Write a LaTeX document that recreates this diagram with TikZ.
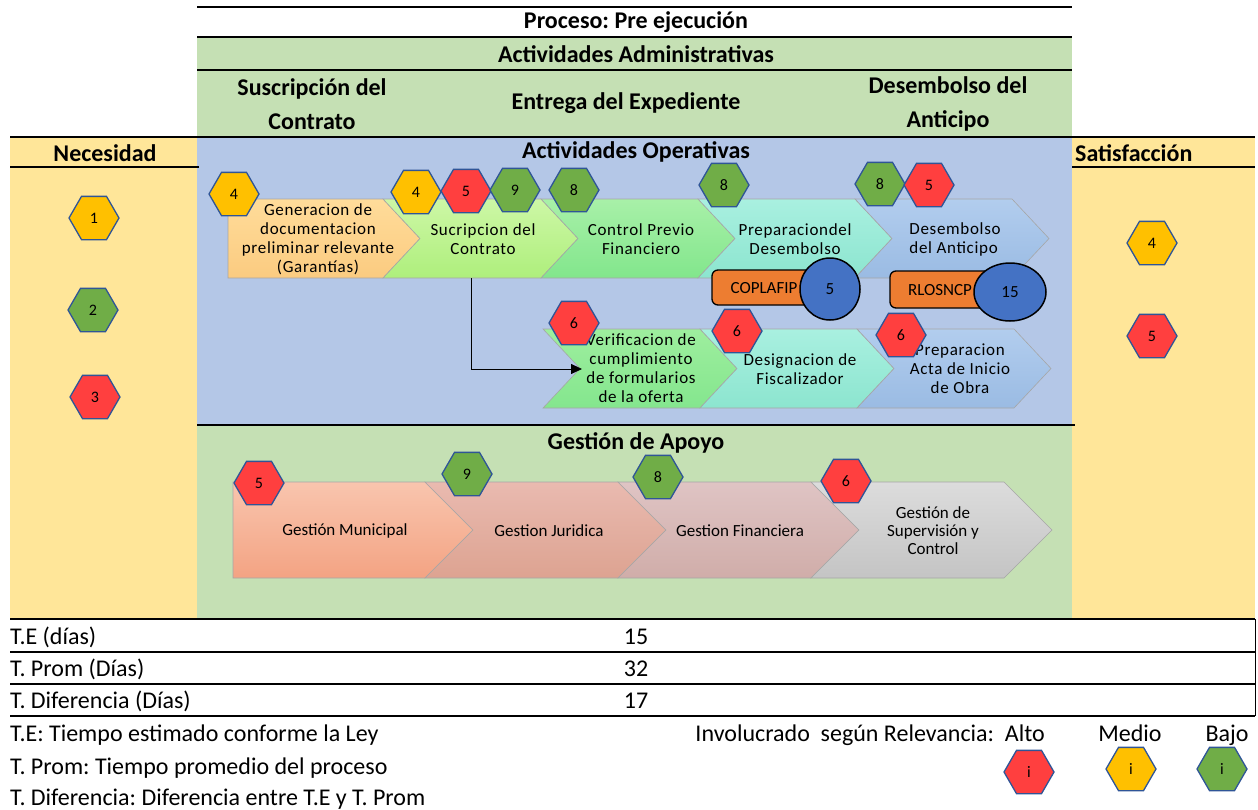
\documentclass[tikz,border=0pt]{standalone}
\usepackage{fontspec}
\setmainfont{Carlito}
\newfontfamily\stepfont[LetterSpace=4]{Carlito}
\usetikzlibrary{positioning,shapes.geometric,arrows.meta}
\frenchspacing

\definecolor{bgblue}{HTML}{B4C7E7}
\definecolor{bggreen}{HTML}{C5E0B4}
\definecolor{bgyellow}{HTML}{FFE699}
\definecolor{hexyellow}{HTML}{FFC000}
\definecolor{hexred}{HTML}{FF3F3F}
\definecolor{hexgreen}{HTML}{70AD47}
\definecolor{hexline}{HTML}{2F5597}
\definecolor{boxorange}{HTML}{ED7D31}
\definecolor{circblue}{HTML}{4472C4}

% notched chevron: x, y top, y bottom, flat width, point depth, style
\newcommand{\chevshape}[6]{%
  \draw[#6] (#1,#2) -- ++(#4,0) -- ({#1+#4+#5},{(#2+#3)/2}) -- ({#1+#4},#3)
    -- (#1,#3) -- ({#1+#5},{(#2+#3)/2}) -- cycle;}
% first step of a row (flat left side)
\newcommand{\plateshape}[6]{%
  \draw[#6] (#1,#2) -- ++(#4,0) -- ({#1+#4+#5},{(#2+#3)/2}) -- ({#1+#4},#3)
    -- (#1,#3) -- cycle;}

\tikzset{
  hexa/.style={regular polygon, regular polygon sides=6, minimum size=50pt,
    inner sep=0pt, draw=hexline, line width=1.3pt, font=\fontsize{16}{16}\selectfont},
  hexY/.style={hexa, fill=hexyellow},
  hexR/.style={hexa, fill=hexred},
  hexG/.style={hexa, fill=hexgreen},
  header/.style={font=\bfseries\fontsize{24}{34}\selectfont, inner sep=0pt},
  steptext/.style={font=\stepfont\fontsize{17}{19}\selectfont, align=center, inner sep=0pt},
  apoyotext/.style={font=\fontsize{17}{18}\selectfont, align=center, inner sep=0pt},
  tabletext/.style={font=\fontsize{24}{25}\selectfont, inner sep=0pt},
  rule/.style={line width=2pt},
  chev/.style={draw=black!35, line width=0.6pt},
  orgbox/.style={draw=black, line width=1.3pt, fill=boxorange, rounded corners=6pt},
  dayscirc/.style={ellipse, draw=black, line width=1.5pt, fill=circblue,
    inner sep=0pt, font=\fontsize{17}{17}\selectfont}
}

\begin{document}
\begin{tikzpicture}[x=1pt, y=-1pt]
\useasboundingbox (0,0) rectangle (1258,809);

% bands
\fill[bggreen] (197,37) rectangle (1072,137);
\fill[bgyellow] (10,137) rectangle (197,618);
\fill[bgyellow] (1072,137) rectangle (1255,618);
\fill[bgblue] (197,137) rectangle (1072,425);
\fill[bggreen] (197,425) rectangle (1072,618);

\draw[rule] (197,7) -- (1072,7);
\draw[rule] (197,37) -- (1072,37);
\draw[rule] (197,70) -- (1072,70);
\draw[rule] (10,137) -- (1255,137);
\draw[rule] (10,167) -- (199,167);
\draw[rule] (1072,167) -- (1255,167);
\draw[rule] (197,425) -- (1075,425);

% headers
\node[header] (proceso) at (636,22) {Proceso: Pre ejecución};
\node[header] (admin) at (636,54) {Actividades Administrativas};
\node[header, align=center] (suscrip) at (312,104) {Suscripción del\\Contrato};
\node[header] (entrega) at (626,103) {Entrega del Expediente};
\node[header, align=center] (desembolso) at (948,104) {Desembolso del\\Anticipo};
\node[header] (necesidad) at (105,153) {Necesidad};
\node[header, anchor=west] (satisf) at (1075,153) {Satisfacción};
\node[header] (operativas) at (636,152) {Actividades Operativas};
\node[header] (apoyo) at (636,443) {Gestión de Apoyo};

% operative steps
\plateshape{228}{199}{278}{155}{37}{chev, top color={rgb,255:red,255;green,220;blue,154}, bottom color={rgb,255:red,251;green,203;blue,128}}
\chevshape{383}{199}{278}{158}{37}{chev, top color={rgb,255:red,205;green,247;blue,166}, bottom color={rgb,255:red,174;green,239;blue,124}}
\chevshape{541}{199}{278}{157}{37}{chev, top color={rgb,255:red,168;green,240;blue,168}, bottom color={rgb,255:red,130;green,230;blue,140}}
\chevshape{698}{199}{278}{157}{37}{chev, top color={rgb,255:red,169;green,240;blue,224}, bottom color={rgb,255:red,140;green,229;blue,207}}
\chevshape{855}{199}{278}{157}{37}{chev, top color={rgb,255:red,178;green,205;blue,238}, bottom color={rgb,255:red,154;green,187;blue,227}}
\chevshape{543}{329}{408}{157}{37}{chev, top color={rgb,255:red,158;green,238;blue,158}, bottom color={rgb,255:red,132;green,230;blue,142}}
\chevshape{700}{329}{408}{157}{37}{chev, top color={rgb,255:red,169;green,240;blue,224}, bottom color={rgb,255:red,140;green,229;blue,207}}
\chevshape{857}{329}{408}{157}{37}{chev, top color={rgb,255:red,178;green,205;blue,238}, bottom color={rgb,255:red,154;green,187;blue,227}}

\node[steptext] (genT) at (318,239) {Generacion de\\documentacion\\preliminar relevante\\(Garantías)};
\node[steptext] (sucrT) at (483,239) {Sucripcion del\\Contrato};
\node[steptext] (ctrlT) at (641,239) {Control Previo\\Financiero};
\node[steptext] (prepT) at (795,239) {Preparaciondel\\Desembolso};
\node[steptext, align=left] (desT) at (955,239) {Desembolso\\del Anticipo};
\node[steptext] (verT) at (641,368) {Verificacion de\\cumplimiento\\de formularios\\de la oferta};
\node[steptext] (desigT) at (800,369) {Designacion de\\Fiscalizador};
\node[steptext] (actaT) at (960,369) {Preparacion\\Acta de Inicio\\de Obra};

\coordinate (sucrBase) at (471,278);
\coordinate (verNotch) at (582,369);
\draw[-{Triangle[length=11pt,width=10pt]}, line width=0.8pt] (sucrBase) |- (verNotch);

% legal bodies with days
\draw[orgbox] (712,270) rectangle (840,305);
\node[font=\fontsize{17}{17}\selectfont] (coplafip) at (764,288) {COPLAFIP};
\node[dayscirc, minimum width=60pt, minimum height=62pt] (copDays) at (830,289) {5};
\draw[orgbox] (890,271) rectangle (1000,308);
\node[font=\fontsize{17}{17}\selectfont] (rlosncp) at (940,290) {RLOSNCP};
\node[dayscirc, minimum width=72pt, minimum height=58pt] (rloDays) at (1010,292) {15};

% support steps
\plateshape{233}{482}{578}{192}{48}{chev, top color={rgb,255:red,249;green,197;blue,174}, bottom color={rgb,255:red,243;green,163;blue,131}}
\chevshape{425}{482}{578}{193}{48}{chev, top color={rgb,255:red,233;green,186;blue,176}, bottom color={rgb,255:red,221;green,163;blue,145}}
\chevshape{618}{482}{578}{193}{48}{chev, top color={rgb,255:red,223;green,196;blue,196}, bottom color={rgb,255:red,208;green,173;blue,169}}
\chevshape{811}{482}{578}{193}{48}{chev, top color={rgb,255:red,220;green,220;blue,220}, bottom color={rgb,255:red,196;green,196;blue,196}}

\node[apoyotext] (muniT) at (345,531) {Gestión Municipal};
\node[apoyotext] (juriT) at (549,531) {Gestion Juridica};
\node[apoyotext] (finT) at (740,531) {Gestion Financiera};
\node[apoyotext] (supT) at (933,531) {Gestión de\\Supervisión y\\Control};

% involvement hexagons
\node[hexY] (need1) at (94,218) {1};
\node[hexG] (need2) at (93,310) {2};
\node[hexR] (need3) at (95,397) {3};
\node[hexY] (sat4) at (1152,243) {4};
\node[hexR] (sat5) at (1152,336) {5};

\node[hexY] (gen4) at (234,194) {4};
\node[hexY] (sucr4) at (416,192) {4};
\node[hexR] (sucr5) at (466,191) {5};
\node[hexG] (sucr9) at (515,190) {9};
\node[hexG] (ctrl8) at (574,190) {8};
\node[hexG] (prep8) at (724,185) {8};
\node[hexG] (des8) at (880,184) {8};
\node[hexR] (des5) at (929,185) {5};
\node[hexR] (ver6) at (574,323) {6};
\node[hexR] (desig6) at (737,331) {6};
\node[hexR] (acta6) at (901,335) {6};

\node[hexR] (muni5) at (259,483) {5};
\node[hexG] (juri9) at (467,474) {9};
\node[hexG] (fin8) at (658,477) {8};
\node[hexR] (sup6) at (846,481) {6};

% times
\draw[rule] (10,619) -- (1255,619);
\draw[rule] (10,652) -- (1255,652);
\draw[rule] (10,684) -- (1255,684);
\draw[rule] (10,716) -- (1255,716);
\draw[line width=1pt] (1255,619) -- (1255,716);

\node[tabletext, anchor=base west] (teLbl) at (10,644) {T.E (días)};
\node[tabletext, anchor=base] (teVal) at (636,644) {15};
\node[tabletext, anchor=base west] (promLbl) at (10,676) {T. Prom (Días)};
\node[tabletext, anchor=base] (promVal) at (636,676) {32};
\node[tabletext, anchor=base west] (difLbl) at (10,708) {T. Diferencia (Días)};
\node[tabletext, anchor=base] (difVal) at (636,708) {17};

\node[tabletext, anchor=base west] (noteTE) at (10,741) {T.E: Tiempo estimado conforme la Ley};
\node[tabletext, anchor=base west] (noteProm) at (10,774) {T. Prom: Tiempo promedio del proceso};
\node[tabletext, anchor=base west] (noteDif) at (10,805) {T. Diferencia: Diferencia entre T.E y T. Prom};

% legend
\node[tabletext, anchor=base east] (legTitle) at (1045,741) {Involucrado\ \ según Relevancia:\ \ Alto};
\node[tabletext, anchor=base] (legMedio) at (1130,741) {Medio};
\node[tabletext, anchor=base] (legBajo) at (1227,741) {Bajo};
\node[hexR] (legR) at (1029,772) {i};
\node[hexY] (legY) at (1131,769) {i};
\node[hexG] (legG) at (1222,769) {i};
\end{tikzpicture}
\end{document}
